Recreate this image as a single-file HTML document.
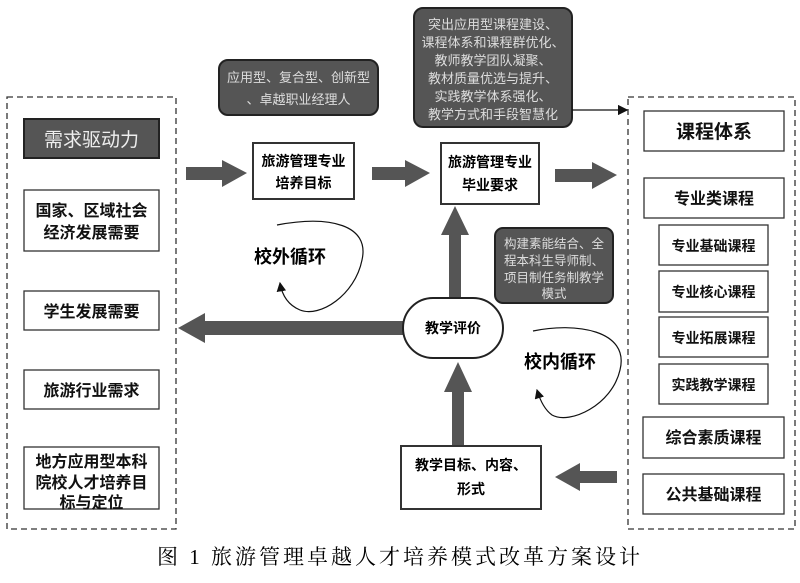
<!DOCTYPE html>
<html><head><meta charset="utf-8"><style>
body{margin:0;background:#fff;}
svg{display:block;font-family:"Liberation Sans","Noto Sans CJK SC",sans-serif;}
.b{font-weight:bold;}
</style></head><body>
<svg width="800" height="583" viewBox="0 0 800 583" xmlns="http://www.w3.org/2000/svg">
<defs>
<marker id="ah" markerWidth="8" markerHeight="8" refX="7" refY="4" orient="auto"><path d="M0,0 L8,4 L0,8z" fill="#111"/></marker>
</defs>
<rect x="7" y="97" width="169" height="432" fill="none" stroke="#333" stroke-width="1.3" stroke-dasharray="6,4"/>
<rect x="628" y="97" width="167" height="432" fill="none" stroke="#333" stroke-width="1.3" stroke-dasharray="6,4"/>

<rect x="24" y="119" width="135" height="39" fill="#555" stroke="#222" stroke-width="2"/>
<text x="91.5" y="146" font-size="19" fill="#eee" text-anchor="middle">需求驱动力</text>
<g fill="#fff" stroke="#333" stroke-width="1.3">
<rect x="24" y="190" width="135" height="61"/>
<rect x="24" y="291" width="135" height="39"/>
<rect x="24" y="370" width="135" height="39"/>
<rect x="24" y="447" width="135" height="62"/>
</g>
<g font-size="16" class="b" text-anchor="middle" fill="#111">
<text x="91.5" y="216">国家、区域社会</text>
<text x="91.5" y="238">经济发展需要</text>
<text x="91.5" y="317">学生发展需要</text>
<text x="91.5" y="396">旅游行业需求</text>
<text x="91.5" y="467">地方应用型本科</text>
<text x="91.5" y="488">院校人才培养目</text>
<text x="91.5" y="508">标与定位</text>
</g>

<rect x="219" y="60" width="159" height="55" rx="9" fill="#555" stroke="#222" stroke-width="2"/>
<text x="298.5" y="82" font-size="13" fill="#ddd" text-anchor="middle">应用型、复合型、创新型</text>
<text x="298.5" y="104" font-size="13" fill="#ddd" text-anchor="middle">、卓越职业经理人</text>

<rect x="414" y="8" width="158" height="119" rx="9" fill="#555" stroke="#222" stroke-width="2"/>
<g font-size="13" fill="#ddd" text-anchor="middle">
<text x="493" y="29">突出应用型课程建设、</text>
<text x="493" y="47">课程体系和课程群优化、</text>
<text x="493" y="65">教师教学团队凝聚、</text>
<text x="493" y="83">教材质量优选与提升、</text>
<text x="493" y="101">实践教学体系强化、</text>
<text x="493" y="119">教学方式和手段智慧化</text>
</g>
<line x1="572" y1="110" x2="627" y2="110" stroke="#111" stroke-width="1.3" marker-end="url(#ah)"/>

<rect x="495" y="228" width="118" height="75" rx="8" fill="#555" stroke="#222" stroke-width="2"/>
<g font-size="12.5" fill="#ddd" text-anchor="middle">
<text x="554" y="248">构建素能结合、全</text>
<text x="554" y="265">程本科生导师制、</text>
<text x="554" y="282">项目制任务制教学</text>
<text x="554" y="298">模式</text>
</g>

<rect x="253" y="143" width="101" height="56" fill="#fff" stroke="#333" stroke-width="2"/>
<text x="303.5" y="166" font-size="14" class="b" text-anchor="middle">旅游管理专业</text>
<text x="303.5" y="188" font-size="14" class="b" text-anchor="middle">培养目标</text>
<rect x="441" y="143" width="98" height="61" fill="#fff" stroke="#333" stroke-width="2"/>
<text x="490" y="167" font-size="14" class="b" text-anchor="middle">旅游管理专业</text>
<text x="490" y="190" font-size="14" class="b" text-anchor="middle">毕业要求</text>

<g fill="#555">
<path d="M186,167 H222 V160 L247,173 L222,187 V180 H186z"/>
<path d="M372,167 H405 V160 L430,173 L405,187 V180 H372z"/>
<path d="M555,169 H592 V162 L617,175 L592,189 V182 H555z"/>
<path d="M449,300 V235 H441 L455,206 L469,235 H461 V300z"/>
<path d="M452,447 V392 H444 L458,362 L472,392 H464 V447z"/>
<path d="M403,321 H205 V313 L178,328 L205,343 V335 H403z"/>
<path d="M617,471 H580 V463 L555,477 L580,491 V483 H617z"/>
</g>

<rect x="403" y="298" width="100" height="60" rx="30" fill="#fff" stroke="#222" stroke-width="2"/>
<text x="453" y="333" font-size="14" class="b" text-anchor="middle">教学评价</text>

<rect x="401" y="446" width="140" height="63" fill="#fff" stroke="#333" stroke-width="2"/>
<text x="471" y="470" font-size="14" class="b" text-anchor="middle">教学目标、内容、</text>
<text x="471" y="494" font-size="14" class="b" text-anchor="middle">形式</text>

<text x="290" y="263" font-size="18" class="b" text-anchor="middle">校外循环</text>
<path d="M277,225 C330,215 370,225 362,260 C355,295 320,318 300,310 C288,305 282,295 280,283" fill="none" stroke="#111" stroke-width="1.2" marker-end="url(#ah)"/>
<text x="560" y="368" font-size="18" class="b" text-anchor="middle">校内循环</text>
<path d="M533,331 C575,322 630,330 620,370 C612,405 570,425 552,415 C545,410 540,400 537,390" fill="none" stroke="#111" stroke-width="1.2" marker-end="url(#ah)"/>

<g fill="#fff" stroke="#333" stroke-width="1.3">
<rect x="644" y="111" width="140" height="40"/>
<rect x="644" y="178" width="140" height="40"/>
<rect x="659" y="225" width="109" height="40"/>
<rect x="659" y="271" width="109" height="41"/>
<rect x="659" y="317" width="109" height="40"/>
<rect x="659" y="364" width="109" height="40"/>
<rect x="643" y="417" width="141" height="41"/>
<rect x="643" y="474" width="141" height="40"/>
</g>
<g class="b" text-anchor="middle" fill="#111">
<text x="714" y="138" font-size="19">课程体系</text>
<text x="714" y="204" font-size="16">专业类课程</text>
<text x="713.5" y="251" font-size="14">专业基础课程</text>
<text x="713.5" y="297" font-size="14">专业核心课程</text>
<text x="713.5" y="343" font-size="14">专业拓展课程</text>
<text x="713.5" y="390" font-size="14">实践教学课程</text>
<text x="713.5" y="443" font-size="16">综合素质课程</text>
<text x="713.5" y="500" font-size="16">公共基础课程</text>
</g>

<text x="400" y="564" font-size="21" text-anchor="middle" font-family="'Liberation Serif','Noto Serif CJK SC',serif" letter-spacing="3">图 1  旅游管理卓越人才培养模式改革方案设计</text>
</svg>
</body></html>
